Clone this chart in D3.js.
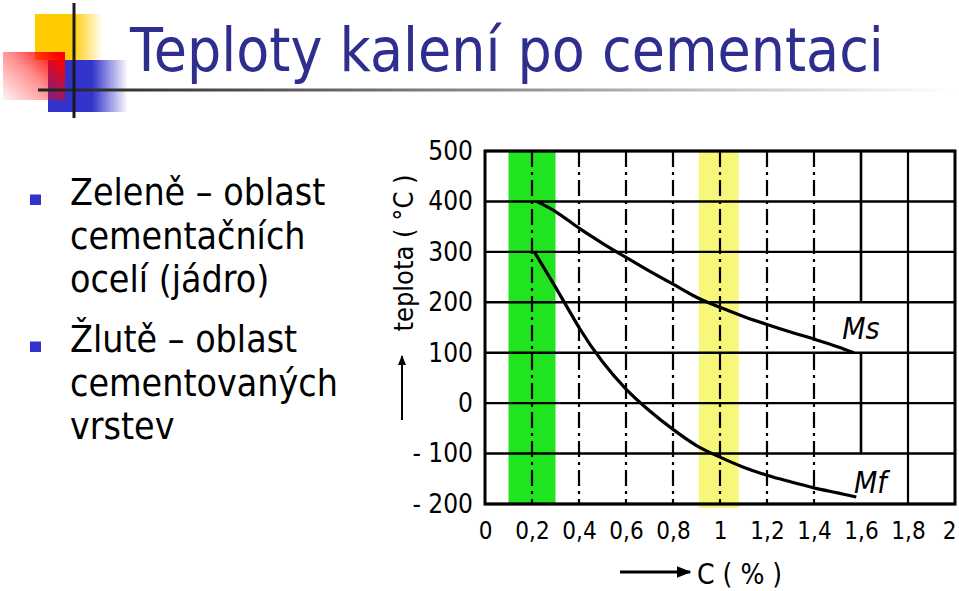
<!DOCTYPE html>
<html>
<head>
<meta charset="utf-8">
<script src="https://d3js.org/d3.v7.min.js"></script>
<style>
  body { margin: 0; background: #fff; }
  svg { display: block; }
</style>
</head>
<body>
<svg width="959" height="591"></svg>
<script>

  // ---- data ----
  const titleText = 'Teploty kalení po cementaci';
  const bulletItems = [
    ['Zeleně – oblast', 'cementačních', 'ocelí (jádro)'],
    ['Žlutě – oblast', 'cementovaných', 'vrstev']
  ];

  const xTicks = [0, 0.2, 0.4, 0.6, 0.8, 1, 1.2, 1.4, 1.6, 1.8, 2];
  const xTickLabels = ['0', '0,2', '0,4', '0,6', '0,8', '1', '1,2', '1,4', '1,6', '1,8', '2'];
  const yTicks = [500, 400, 300, 200, 100, 0, -100, -200];
  const yTickLabels = ['500', '400', '300', '200', '100', '0', '- 100', '- 200'];

  const greenBand = [0.1, 0.3];     // cementační oceli (jádro)
  const yellowBand = [0.91, 1.08];  // cementované vrstvy

  // Ms: martensite start, Mf: martensite finish  [C %, °C]
  const msCurve = [[0.22, 400], [0.3, 380], [0.4, 347], [0.5, 317], [0.6, 289], [0.7, 262],
    [0.8, 236], [0.9, 210], [1.0, 190], [1.1, 172], [1.2, 156], [1.3, 141], [1.4, 127],
    [1.5, 112], [1.57, 100]];
  const mfCurve = [[0.21, 300], [0.3, 230], [0.35, 190], [0.4, 150], [0.5, 82], [0.6, 28],
    [0.7, -15], [0.8, -52], [0.9, -84], [1.0, -107], [1.1, -127], [1.2, -143], [1.3, -156],
    [1.4, -168], [1.5, -178], [1.58, -186]];

  // the 1.6 line is broken where the curves end
  const brokenX = 1.6;
  const brokenSegments = [[500, 200], [100, -100]];
  const dashedX = [0.2, 0.4, 0.6, 0.8, 1, 1.2, 1.4];

  const svg = d3.select('svg');

  // ---- gradients for the template logo ----
  const defs = svg.append('defs');
  function hGrad(id, stops, x1, y1, x2, y2) {
    const g = defs.append('linearGradient').attr('id', id)
      .attr('x1', x1).attr('y1', y1).attr('x2', x2).attr('y2', y2);
    stops.forEach(s => g.append('stop').attr('offset', s[0])
      .attr('stop-color', s[1]).attr('stop-opacity', s[2]));
  }
  hGrad('gYellow', [[0, '#ffcc00', 1], [0.55, '#ffcc00', 1], [1, '#ffcc00', 0]], 0, 0, 1, 0);
  hGrad('gBlue', [[0, '#3333cc', 1], [0.55, '#3333cc', 1], [1, '#3333cc', 0]], 0, 0, 1, 0);
  hGrad('gRed', [[0, '#ff0000', 0.04], [0.55, '#ff0000', 0.45], [1, '#ff0000', 1]], 0, 1, 1, 0.2);
  hGrad('gRule', [[0, '#222', 1], [0.25, '#555', 1], [1, '#ffffff', 1]], 0, 0, 1, 0);

  // Logo squares
  svg.append('rect').attr('x', 35).attr('y', 14).attr('width', 68).attr('height', 46)
    .attr('fill', 'url(#gYellow)');
  svg.append('rect').attr('x', 48).attr('y', 60).attr('width', 80).attr('height', 52)
    .attr('fill', 'url(#gBlue)');
  svg.append('rect').attr('x', 3).attr('y', 52).attr('width', 62).attr('height', 48)
    .attr('fill', 'url(#gRed)');

  // rule under the title
  svg.append('rect').attr('x', 38).attr('y', 88.5).attr('width', 915).attr('height', 3)
    .attr('fill', 'url(#gRule)');
  svg.append('line').attr('x1', 74).attr('x2', 74).attr('y1', 3).attr('y2', 118)
    .attr('stroke', '#1a1a1a').attr('stroke-width', 3);

  // Title
  const title = svg.append('g').attr('transform', 'translate(130,71)');
  const titleT = title.append('text')
    .attr('font-family', 'DejaVu Sans, sans-serif')
    .attr('font-size', 60)
    .attr('fill', '#2e2e8f')
    .text(titleText);
  const tw = titleT.node().getComputedTextLength();
  titleT.attr('transform', 'scale(' + (754 / tw) + ',1)');

  // Bullets
  const bulletTops = [205, 352];
  const lineStep = 43.5;
  let bulletTexts = [];
  bulletItems.forEach(function(lines, i) {
    svg.append('rect')
      .attr('x', 30).attr('y', bulletTops[i] - 10.5)
      .attr('width', 11).attr('height', 10.5)
      .attr('fill', '#3333cc');
    lines.forEach(function(s, j) {
      const t = svg.append('text')
        .attr('font-family', 'DejaVu Sans, sans-serif')
        .attr('font-size', 38)
        .attr('fill', '#000')
        .text(s);
      bulletTexts.push({ t: t, y: bulletTops[i] + j * lineStep });
    });
  });
  const longest = d3.max(bulletTexts, d => d.t.node().getComputedTextLength());
  const bs = 268 / longest;
  bulletTexts.forEach(d => d.t.attr('transform',
    'translate(70,' + d.y + ') scale(' + bs + ',1)'));

  // ---- the scanned chart ----
  const x = d3.scaleLinear().domain([0, 2]).range([485, 955]);
  const y = d3.scaleLinear().domain([-200, 500]).range([504, 151]);

  const chart = svg.append('g');

  // bands
  chart.append('rect')
    .attr('x', x(greenBand[0])).attr('width', x(greenBand[1]) - x(greenBand[0]))
    .attr('y', y(500) - 1).attr('height', y(-200) - y(500) + 2)
    .attr('fill', '#1fe41f');
  chart.append('rect')
    .attr('x', x(yellowBand[0])).attr('width', x(yellowBand[1]) - x(yellowBand[0]))
    .attr('y', y(500) + 1).attr('height', y(-200) - y(500) + 3)
    .attr('fill', '#f7f77a');

  // horizontal grid
  chart.selectAll('line.hgrid')
    .data(yTicks)
    .join('line')
    .attr('class', 'hgrid')
    .attr('x1', x(0)).attr('x2', x(2))
    .attr('y1', d => y(d)).attr('y2', d => y(d))
    .attr('stroke', '#000')
    .attr('stroke-width', 2.4);

  // vertical grid
  const innerX = xTicks.filter(d => d > 0 && d < 2 && d !== brokenX);
  chart.selectAll('line.vgrid')
    .data(innerX)
    .join('line')
    .attr('class', 'vgrid')
    .attr('x1', d => x(d)).attr('x2', d => x(d))
    .attr('y1', y(500)).attr('y2', y(-200))
    .attr('stroke', '#000')
    .attr('stroke-width', 2.2)
    .attr('stroke-dasharray', d => dashedX.includes(d) ? '16,5,3,5' : null);
  chart.selectAll('line.vbroken')
    .data(brokenSegments)
    .join('line')
    .attr('class', 'vbroken')
    .attr('x1', x(brokenX)).attr('x2', x(brokenX))
    .attr('y1', d => y(d[0])).attr('y2', d => y(d[1]))
    .attr('stroke', '#000')
    .attr('stroke-width', 2.6);

  // frame
  chart.append('rect')
    .attr('x', x(0)).attr('y', y(500))
    .attr('width', x(2) - x(0)).attr('height', y(-200) - y(500))
    .attr('fill', 'none')
    .attr('stroke', '#000')
    .attr('stroke-width', 3);

  // curves
  const line = d3.line()
    .x(d => x(d[0]))
    .y(d => y(d[1]))
    .curve(d3.curveMonotoneX);
  chart.append('path').datum(msCurve).attr('d', line)
    .attr('fill', 'none').attr('stroke', '#000').attr('stroke-width', 3.2);
  chart.append('path').datum(mfCurve).attr('d', line)
    .attr('fill', 'none').attr('stroke', '#000').attr('stroke-width', 3.2);

  // curve names
  const scanFont = 'Liberation Sans Narrow, DejaVu Sans Condensed, sans-serif';
  chart.append('text')
    .attr('x', x(1.52)).attr('y', y(128))
    .attr('font-family', scanFont).attr('font-style', 'italic')
    .attr('font-size', 30).text('Ms');
  chart.append('text')
    .attr('x', x(1.57)).attr('y', y(-178))
    .attr('font-family', scanFont).attr('font-style', 'italic')
    .attr('font-size', 30).text('Mf');

  // axes (labels only, the grid is drawn above)
  const yAxis = chart.append('g')
    .attr('transform', 'translate(' + x(0) + ',0)')
    .call(d3.axisLeft(y).tickValues(yTicks)
      .tickFormat((d, i) => yTickLabels[i])
      .tickSize(0).tickPadding(12));
  const xAxis = chart.append('g')
    .attr('transform', 'translate(0,' + y(-200) + ')')
    .call(d3.axisBottom(x).tickValues(xTicks)
      .tickFormat((d, i) => xTickLabels[i])
      .tickSize(0).tickPadding(18));
  [yAxis, xAxis].forEach(function(a) {
    a.select('.domain').remove();
    a.selectAll('text')
      .attr('font-family', scanFont)
      .attr('font-size', 26)
      .attr('fill', '#000');
  });
  xAxis.selectAll('text').attr('font-size', 24);
  // last label sits against the page edge in the scan
  xAxis.selectAll('.tick:last-of-type text').attr('dx', -6);

  // axis titles with arrows
  defs.append('marker').attr('id', 'arrow')
    .attr('viewBox', '0 0 10 10').attr('refX', 9).attr('refY', 5)
    .attr('markerWidth', 5).attr('markerHeight', 5).attr('orient', 'auto')
    .append('path').attr('d', 'M0,1 L10,5 L0,9 Z').attr('fill', '#000');

  svg.append('text')
    .attr('transform', 'translate(413,253) rotate(-90)')
    .attr('text-anchor', 'middle')
    .attr('font-family', scanFont)
    .attr('font-size', 27)
    .text('teplota ( °C )');
  svg.append('line')
    .attr('x1', 402).attr('x2', 402).attr('y1', 420).attr('y2', 356)
    .attr('stroke', '#000').attr('stroke-width', 2)
    .attr('marker-end', 'url(#arrow)');

  svg.append('text')
    .attr('x', 697).attr('y', 584)
    .attr('font-family', scanFont)
    .attr('font-size', 28)
    .text('C ( % )');
  svg.append('line')
    .attr('x1', 620).attr('x2', 690).attr('y1', 572).attr('y2', 572)
    .attr('stroke', '#000').attr('stroke-width', 3)
    .attr('marker-end', 'url(#arrow)');

</script>
</body>
</html>
